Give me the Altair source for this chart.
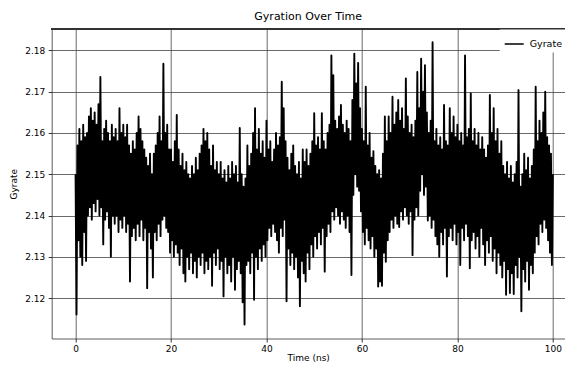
import altair as alt
import pandas as pd

# Sampling times (ns) – one sample every 0.2 ns
time_ns = [round(i * 0.2, 1) for i in range(501)]

# Radius of gyration values (4 ns per row)
gyrate = [
    2.150, 2.116, 2.157, 2.134, 2.161, 2.130, 2.158, 2.128, 2.162, 2.136, 2.159, 2.129, 2.160, 2.140, 2.164, 2.142, 2.166, 2.139, 2.163, 2.143,
    2.165, 2.141, 2.162, 2.144, 2.167, 2.140, 2.1736, 2.142, 2.158, 2.133, 2.161, 2.139, 2.163, 2.141, 2.160, 2.137, 2.158, 2.130, 2.162, 2.140,
    2.159, 2.138, 2.161, 2.140, 2.158, 2.136, 2.166, 2.139, 2.160, 2.137, 2.162, 2.140, 2.159, 2.136, 2.162, 2.138, 2.157, 2.124, 2.155, 2.135,
    2.158, 2.137, 2.156, 2.134, 2.160, 2.138, 2.164, 2.135, 2.161, 2.139, 2.158, 2.134, 2.156, 2.137, 2.154, 2.1224, 2.152, 2.136, 2.155, 2.132,
    2.150, 2.125, 2.155, 2.136, 2.157, 2.134, 2.160, 2.138, 2.164, 2.135, 2.158, 2.139, 2.1768, 2.140, 2.160, 2.137, 2.162, 2.136, 2.156, 2.131,
    2.156, 2.134, 2.153, 2.130, 2.158, 2.133, 2.1644, 2.131, 2.156, 2.128, 2.152, 2.132, 2.155, 2.126, 2.151, 2.124, 2.153, 2.130, 2.150, 2.127,
    2.149, 2.131, 2.152, 2.126, 2.150, 2.129, 2.154, 2.125, 2.151, 2.130, 2.155, 2.128, 2.157, 2.131, 2.161, 2.126, 2.158, 2.129, 2.160, 2.127,
    2.156, 2.130, 2.152, 2.123, 2.157, 2.131, 2.151, 2.128, 2.153, 2.132, 2.150, 2.127, 2.153, 2.129, 2.149, 2.1204, 2.151, 2.130, 2.148, 2.126,
    2.152, 2.128, 2.149, 2.124, 2.153, 2.130, 2.150, 2.122, 2.152, 2.127, 2.148, 2.129, 2.1612, 2.126, 2.150, 2.119, 2.147, 2.1136, 2.149, 2.128,
    2.157, 2.129, 2.152, 2.126, 2.155, 2.131, 2.160, 2.1196, 2.166, 2.130, 2.156, 2.127, 2.161, 2.132, 2.155, 2.129, 2.158, 2.133, 2.154, 2.130,
    2.163, 2.134, 2.156, 2.137, 2.158, 2.135, 2.153, 2.138, 2.156, 2.136, 2.160, 2.134, 2.157, 2.131, 2.159, 2.137, 2.1724, 2.135, 2.166, 2.139,
    2.158, 2.1192, 2.154, 2.132, 2.151, 2.128, 2.155, 2.131, 2.157, 2.127, 2.152, 2.130, 2.150, 2.125, 2.153, 2.118, 2.149, 2.129, 2.156, 2.126,
    2.153, 2.124, 2.156, 2.131, 2.152, 2.127, 2.155, 2.133, 2.158, 2.130, 2.1648, 2.135, 2.157, 2.132, 2.159, 2.136, 2.156, 2.133, 2.1648, 2.137,
    2.158, 2.1264, 2.156, 2.135, 2.160, 2.138, 2.162, 2.136, 2.1788, 2.141, 2.174, 2.139, 2.163, 2.142, 2.161, 2.140, 2.164, 2.138, 2.1668, 2.141,
    2.162, 2.139, 2.160, 2.137, 2.163, 2.140, 2.161, 2.136, 2.158, 2.1256, 2.168, 2.145, 2.1792, 2.150, 2.172, 2.147, 2.177, 2.146, 2.166, 2.141,
    2.161, 2.136, 2.158, 2.133, 2.1712, 2.137, 2.157, 2.134, 2.160, 2.132, 2.154, 2.135, 2.1556, 2.130, 2.152, 2.132, 2.150, 2.1228, 2.151, 2.124,
    2.149, 2.123, 2.155, 2.131, 2.164, 2.1288, 2.158, 2.134, 2.164, 2.136, 2.160, 2.139, 2.1688, 2.137, 2.162, 2.140, 2.165, 2.138, 2.168, 2.1372,
    2.163, 2.141, 2.166, 2.139, 2.161, 2.142, 2.1732, 2.140, 2.164, 2.138, 2.160, 2.141, 2.162, 2.1304, 2.159, 2.139, 2.163, 2.142, 2.1748, 2.140,
    2.166, 2.146, 2.178, 2.150, 2.170, 2.145, 2.1764, 2.147, 2.165, 2.1388, 2.160, 2.140, 2.163, 2.137, 2.182, 2.139, 2.158, 2.135, 2.161, 2.133,
    2.157, 2.130, 2.159, 2.136, 2.156, 2.133, 2.1668, 2.137, 2.158, 2.1252, 2.157, 2.135, 2.166, 2.137, 2.160, 2.134, 2.164, 2.138, 2.159, 2.133,
    2.162, 2.136, 2.158, 2.128, 2.160, 2.137, 2.157, 2.134, 2.1788, 2.138, 2.159, 2.135, 2.161, 2.1272, 2.1696, 2.134, 2.158, 2.136, 2.161, 2.132,
    2.157, 2.135, 2.160, 2.130, 2.156, 2.137, 2.159, 2.133, 2.156, 2.128, 2.154, 2.134, 2.157, 2.131, 2.1692, 2.135, 2.160, 2.129, 2.166, 2.132,
    2.158, 2.126, 2.161, 2.131, 2.155, 2.128, 2.158, 2.125, 2.152, 2.129, 2.150, 2.1208, 2.153, 2.127, 2.149, 2.1212, 2.152, 2.126, 2.148, 2.121,
    2.150, 2.128, 2.153, 2.125, 2.1704, 2.130, 2.147, 2.1168, 2.150, 2.127, 2.155, 2.124, 2.151, 2.129, 2.154, 2.122, 2.149, 2.128, 2.152, 2.126,
    2.156, 2.131, 2.1712, 2.135, 2.158, 2.133, 2.163, 2.138, 2.160, 2.136, 2.165, 2.139, 2.170, 2.137, 2.159, 2.134, 2.157, 2.131, 2.155, 2.128,
    2.150,
]

series_name = "Gyrate"
x_ticks = [0, 20, 40, 60, 80, 100]
y_ticks = [2.12, 2.13, 2.14, 2.15, 2.16, 2.17, 2.18]

df = pd.DataFrame({"time": time_ns, "gyrate": gyrate, "series": series_name})

FONT = "DejaVu Sans"
W, H = 513, 309.5

line = alt.Chart(df).mark_line(strokeWidth=1.9, clip=True, strokeJoin="round").encode(
    x=alt.X(
        "time:Q",
        scale=alt.Scale(domain=[-5, 102.48], nice=False, zero=False),
        axis=alt.Axis(values=x_ticks, title="Time (ns)", grid=True, format="d",
                      labelPadding=2, titlePadding=0),
    ),
    y=alt.Y(
        "gyrate:Q",
        scale=alt.Scale(domain=[2.1102, 2.1852], nice=False, zero=False),
        axis=alt.Axis(values=y_ticks, format=".2f", title="Gyrate", grid=True,
                      labelPadding=3.5, titlePadding=6),
    ),
    color=alt.Color(
        "series:N",
        scale=alt.Scale(range=["black"]),
        legend=alt.Legend(
            title=None, orient="none", legendX=448, legendY=0.5,
            symbolType="stroke", symbolSize=361, symbolStrokeWidth=1.5,
            labelFont=FONT, labelFontSize=9.5, labelColor="black",
            fillColor="white", padding=4, labelOffset=5,
        ),
    ),
)

top_spine = alt.Chart(df).mark_rule(color="#333333", strokeWidth=0.8).encode(
    x=alt.value(0), x2=alt.value(W), y=alt.value(0)
)

chart = alt.layer(top_spine, line).properties(
    width=W,
    height=H,
    title=alt.TitleParams("Gyration Over Time", font=FONT, fontSize=11,
                          fontWeight="normal", color="black", anchor="middle",
                          offset=6.5),
    autosize=alt.AutoSizeParams(type="none"),
    padding={"left": 43.7, "top": 21, "right": 0.3, "bottom": 25.5},
).configure_view(stroke="transparent").configure_axis(
    labelFont=FONT, labelFontSize=9, labelColor="black",
    titleFont=FONT, titleFontSize=9, titleFontWeight="normal", titleColor="black",
    tickColor="black", tickSize=3.5, tickWidth=0.8,
    domainColor="#333333", domainWidth=0.8,
    gridColor="#444444", gridWidth=0.8, gridOpacity=1,
)

chart.save("out.html", embed_options={"renderer": "svg", "actions": False})
